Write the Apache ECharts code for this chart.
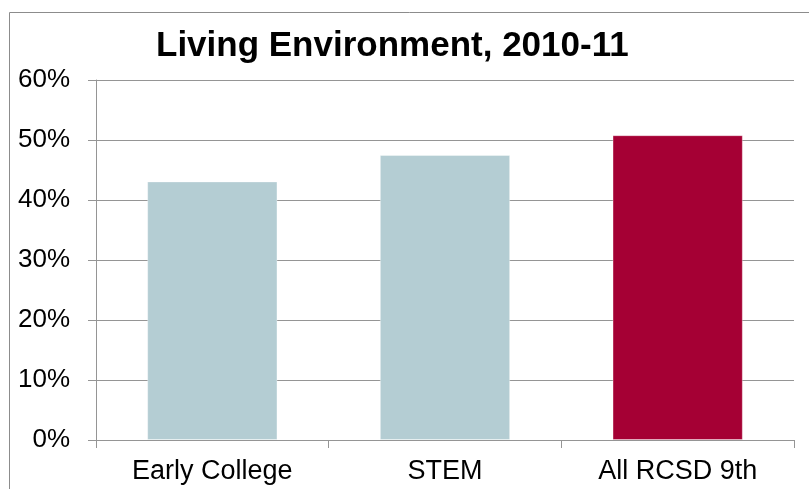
<!DOCTYPE html>
<html>
<head>
<meta charset="utf-8">
<script src="https://cdn.jsdelivr.net/npm/echarts@6/dist/echarts.min.js"></script>
<style>
html,body{margin:0;padding:0;background:#fff;}
#c{width:809px;height:489px;}
</style>
</head>
<body>
<div id="c"></div>
<script>
const titleText = "Living Environment, 2010-11";
const categories = ["Early College", "STEM", "All RCSD 9th"];
const values = [43.1, 47.5, 50.8];
const barColors = ["#b4cdd3", "#b4cdd3", "#a50034"];
const yTicks = [0, 10, 20, 30, 40, 50, 60];

const chart = echarts.init(document.getElementById('c'), null, {renderer: 'canvas'});
const font = '"Liberation Sans", Arial, sans-serif';
chart.setOption({
  animation: false,
  backgroundColor: '#ffffff',
  graphic: [{
    type: 'rect',
    shape: {x: 9.5, y: 12.5, width: 830, height: 520},
    style: {fill: 'none', stroke: '#8c8c8c', lineWidth: 1},
    silent: true
  }],
  title: {
    text: titleText,
    left: 151,
    top: 24,
    textStyle: {fontFamily: font, fontWeight: 'bold', fontSize: 35, color: '#000'}
  },
  grid: {left: 96, right: 15, top: 80, bottom: 49, containLabel: false},
  xAxis: {
    type: 'category',
    data: categories,
    axisLine: {show: true, lineStyle: {color: '#959595', width: 1}},
    axisTick: {show: true, length: 8, lineStyle: {color: '#959595'}},
    axisLabel: {fontFamily: font, fontSize: 27, color: '#000', margin: 18}
  },
  yAxis: {
    type: 'value',
    min: yTicks[0],
    max: yTicks[yTicks.length - 1],
    interval: 10,
    axisLine: {show: true, lineStyle: {color: '#959595', width: 1}},
    axisTick: {show: true, length: 8, lineStyle: {color: '#959595'}},
    splitLine: {show: true, lineStyle: {color: '#959595', width: 1}},
    axisLabel: {fontFamily: font, fontSize: 26, color: '#000', margin: 26, formatter: '{value}%'}
  },
  series: [{
    type: 'bar',
    data: values.map((v, i) => ({value: v, itemStyle: {color: barColors[i]}})),
    barWidth: '56%',
    itemStyle: {borderColor: 'rgba(255,255,255,0.35)', borderWidth: 1}
  }]
});
</script>
</body>
</html>
